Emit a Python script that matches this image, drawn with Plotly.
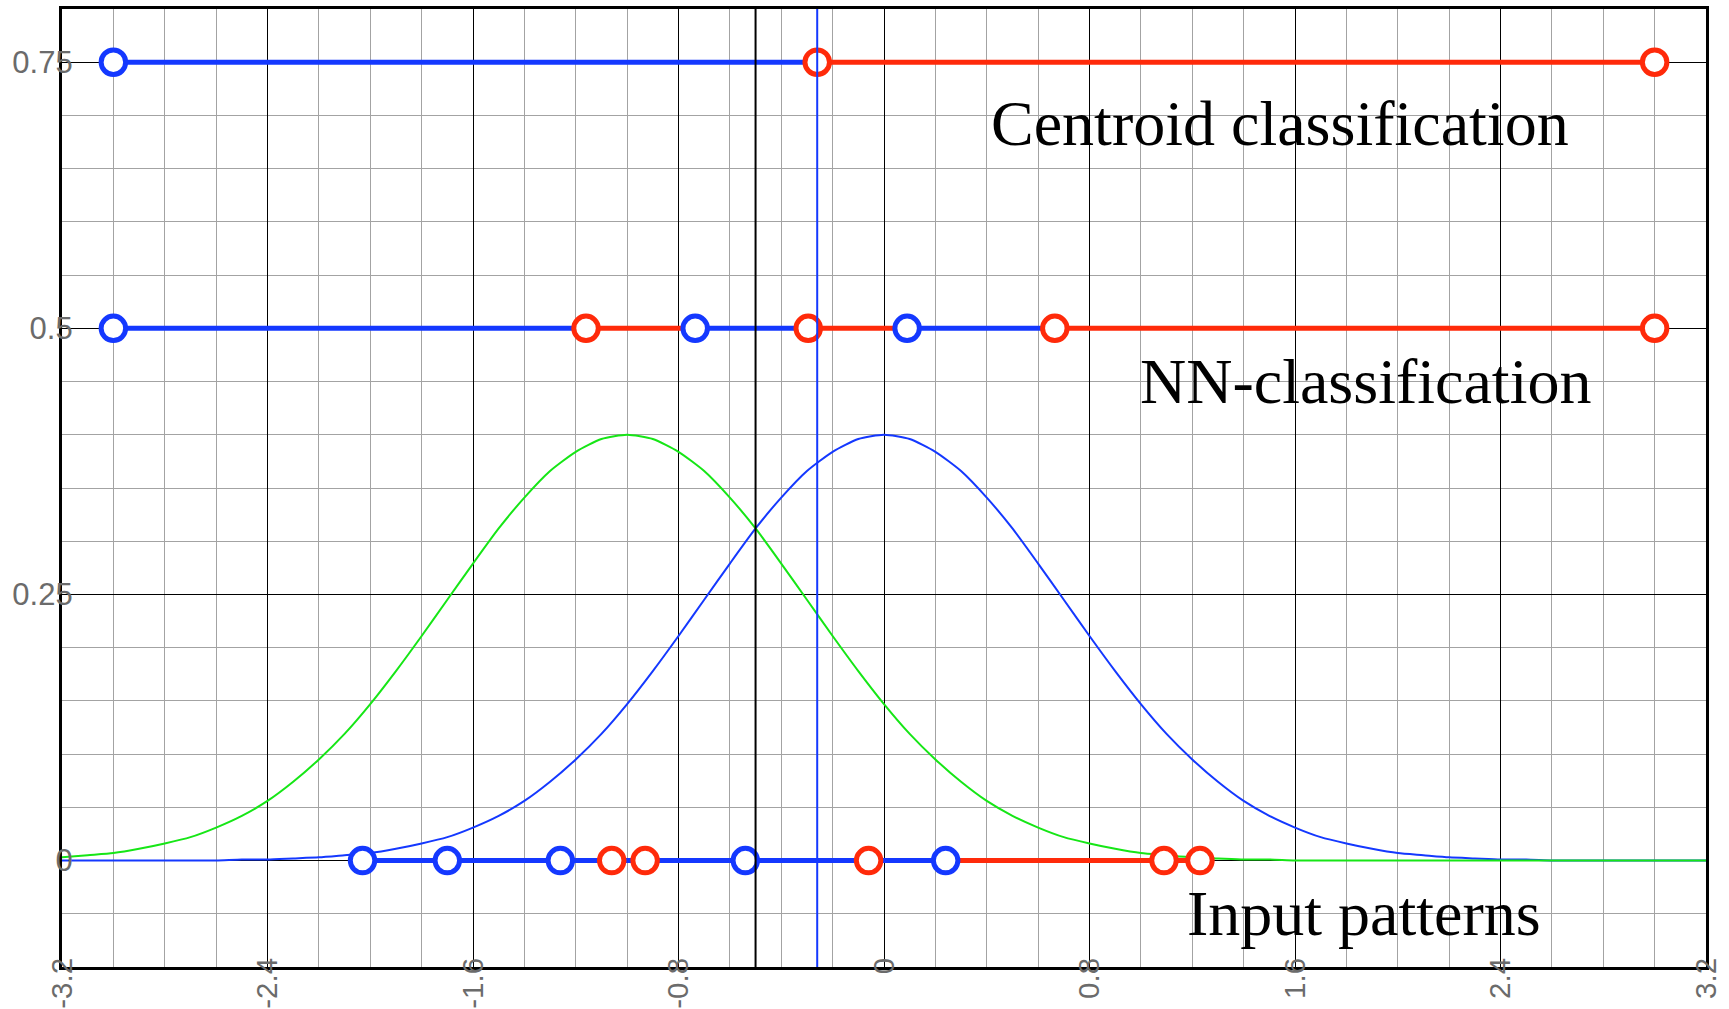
import plotly.graph_objects as go

# Sample positions for the two class-conditional density curves
curve_x = [-3.2, -3.1, -3.0, -2.9, -2.8, -2.7, -2.6, -2.5, -2.4, -2.3, -2.2, -2.1,
           -2.0, -1.9, -1.8, -1.7, -1.6, -1.5, -1.4, -1.3, -1.2, -1.1, -1.0, -0.9,
           -0.8, -0.7, -0.6, -0.5, -0.4, -0.3, -0.2, -0.1, 0.0, 0.1, 0.2, 0.3, 0.4,
           0.5, 0.6, 0.7, 0.8, 0.9, 1.0, 1.1, 1.2, 1.3, 1.4, 1.5, 1.6, 1.7, 1.8, 1.9,
           2.0, 2.1, 2.2, 2.3, 2.4, 2.5, 2.6, 2.7, 2.8, 2.9, 3.0, 3.1, 3.2]

# Density centred at 0 (blue curve)
density_blue = [0, 0, 0, 0, 0, 0, 0,
                0.001, 0.001, 0.002, 0.003, 0.005, 0.007, 0.011, 0.016, 0.022, 0.031,
                0.042, 0.056, 0.074, 0.095, 0.119, 0.147, 0.178, 0.211, 0.245, 0.279,
                0.312, 0.341, 0.366, 0.384, 0.396,
                0.400,
                0.396, 0.384, 0.366, 0.341, 0.312, 0.279, 0.245, 0.211, 0.178, 0.147,
                0.119, 0.095, 0.074, 0.056, 0.042, 0.031, 0.022, 0.016, 0.011, 0.007,
                0.005, 0.003, 0.002, 0.001, 0.001,
                0, 0, 0, 0, 0, 0, 0]

# Density centred at -1 (green curve)
density_green = [0.003, 0.005, 0.007, 0.011, 0.016, 0.022, 0.031, 0.042, 0.056, 0.074,
                 0.095, 0.119, 0.147, 0.178, 0.211, 0.245, 0.279, 0.312, 0.341, 0.366,
                 0.384, 0.396,
                 0.400,
                 0.396, 0.384, 0.366, 0.341, 0.312, 0.279, 0.245, 0.211, 0.178, 0.147,
                 0.119, 0.095, 0.074, 0.056, 0.042, 0.031, 0.022, 0.016, 0.011, 0.007,
                 0.005, 0.003, 0.002, 0.001, 0.001,
                 0, 0, 0, 0, 0, 0, 0, 0, 0, 0, 0, 0, 0, 0, 0, 0, 0]

# Input patterns of the two classes
inputs_blue = [-2.03, -1.70, -1.26, -0.54, 0.24]
inputs_red = [-1.06, -0.93, -0.06, 1.09, 1.23]

# Decision boundaries
nn_boundaries = [-1.16, -0.735, -0.295, 0.09, 0.665]
centroid_boundary = -0.26
bayes_boundary = -0.5
domain_ends = [-3.0, 3.0]

# Row heights of the three strips
row_inputs = 0.0
row_nn = 0.5
row_centroid = 0.75

# Axis ticks
x_range = [-3.2, 3.2]
y_range = [-0.1, 0.8]
x_tickvals = [-3.2, -2.4, -1.6, -0.8, 0.0, 0.8, 1.6, 2.4, 3.2]
x_ticktext = ["-3.2", "-2.4", "-1.6", "-0.8", "0", "0.8", "1.6", "2.4", "3.2"]
y_tickvals = [0.0, 0.25, 0.5, 0.75]
y_ticktext = ["0", "0.25", "0.5", "0.75"]

BLUE = "#1438ff"
RED = "#ff2a0a"
GREEN = "#16e616"

fig = go.Figure()

# density curves
fig.add_trace(go.Scatter(x=curve_x, y=density_blue, mode="lines",
                         line=dict(color=BLUE, width=2, shape="spline", smoothing=0.6),
                         hoverinfo="skip"))
fig.add_trace(go.Scatter(x=curve_x, y=density_green, mode="lines",
                         line=dict(color=GREEN, width=2, shape="spline", smoothing=0.6),
                         hoverinfo="skip"))


def segments(points, colors, y):
    """Split a row into coloured pieces: colors[i] covers points[i]..points[i+1]."""
    out = {}
    for i in range(len(points) - 1):
        xs, ys = out.setdefault(colors[i], ([], []))
        xs += [points[i], points[i + 1], None]
        ys += [y, y, None]
    return out


# classification strips
centroid_pts = [domain_ends[0], centroid_boundary, domain_ends[1]]
centroid_cols = [BLUE, RED]
nn_pts = [domain_ends[0]] + nn_boundaries + [domain_ends[1]]
nn_cols = [BLUE, RED, BLUE, RED, BLUE, RED]
input_pts = [min(inputs_blue), max(inputs_blue), max(inputs_red)]
input_cols = [BLUE, RED]

for pts, cols, y in [(centroid_pts, centroid_cols, row_centroid),
                     (nn_pts, nn_cols, row_nn),
                     (input_pts, input_cols, row_inputs)]:
    for col, (xs, ys) in segments(pts, cols, y).items():
        fig.add_trace(go.Scatter(x=xs, y=ys, mode="lines",
                                 line=dict(color=col, width=5), hoverinfo="skip"))


def rings(xs, y, col):
    fig.add_trace(go.Scatter(x=xs, y=[y] * len(xs), mode="markers",
                             marker=dict(symbol="circle", size=24.5, color="white",
                                         line=dict(color=col, width=5)),
                             hoverinfo="skip"))


rings([domain_ends[0]], row_centroid, BLUE)
rings([centroid_boundary, domain_ends[1]], row_centroid, RED)
rings([domain_ends[0]] + nn_boundaries[1::2], row_nn, BLUE)
rings(nn_boundaries[0::2] + [domain_ends[1]], row_nn, RED)
rings(inputs_red, row_inputs, RED)
rings(inputs_blue, row_inputs, BLUE)

# boundary verticals
fig.add_trace(go.Scatter(x=[bayes_boundary, bayes_boundary], y=y_range, mode="lines",
                         line=dict(color="black", width=2), hoverinfo="skip"))
fig.add_trace(go.Scatter(x=[centroid_boundary, centroid_boundary], y=y_range,
                         mode="lines", line=dict(color=BLUE, width=2), hoverinfo="skip"))

# empty trace that carries the overlay axes used for the tick labels
fig.add_trace(go.Scatter(x=[], y=[], xaxis="x2", yaxis="y2", hoverinfo="skip"))

label_font = dict(family="Liberation Serif", size=64, color="black")
for text, x, y in [("Centroid classification", 1.54, 0.692),
                   ("NN-classification", 1.873, 0.4505),
                   ("Input patterns", 1.869, -0.0498)]:
    fig.add_annotation(x=x, y=y, text=text, showarrow=False, font=label_font,
                       xanchor="center", yanchor="middle")

x_tick_font = dict(family="Liberation Sans", size=29.5, color="#6b6b6b")
y_tick_font = dict(family="Liberation Sans", size=31, color="#6b6b6b")

# main axes: frame and grid only
fig.update_layout(
    xaxis=dict(range=x_range, tickmode="array", tickvals=x_tickvals,
               showticklabels=False, ticks="", automargin=False,
               showgrid=True, gridcolor="black", gridwidth=1,
               minor=dict(dtick=0.2, tick0=-3.2, showgrid=True,
                          gridcolor="#a3a3a3", gridwidth=1),
               showline=True, linecolor="black", linewidth=2.5, mirror=True,
               zeroline=False, fixedrange=True),
    yaxis=dict(range=y_range, tickmode="array", tickvals=y_tickvals,
               showticklabels=False, ticks="", automargin=False,
               showgrid=True, gridcolor="black", gridwidth=1,
               minor=dict(dtick=0.05, tick0=0, showgrid=True,
                          gridcolor="#a3a3a3", gridwidth=1),
               showline=True, linecolor="black", linewidth=2.5, mirror=True,
               zeroline=False, fixedrange=True),
    # label axes, nudged so the labels straddle the frame
    xaxis2=dict(range=x_range, overlaying="x", anchor="free", position=0.0167,
                side="bottom", tickmode="array", tickvals=x_tickvals,
                ticktext=x_ticktext, tickangle=-90, tickfont=x_tick_font, ticks="",
                showgrid=False, showline=False, zeroline=False, automargin=False,
                fixedrange=True),
    yaxis2=dict(range=y_range, overlaying="y", anchor="free", position=0.0065,
                side="left", tickmode="array", tickvals=y_tickvals,
                ticktext=y_ticktext, tickfont=y_tick_font, ticks="",
                showgrid=False, showline=False, zeroline=False, automargin=False,
                fixedrange=True),
    width=1729, height=1009,
    margin=dict(l=62, r=23, t=9, b=42),
    paper_bgcolor="white", plot_bgcolor="white",
    showlegend=False,
)

fig.write_html("out.html", config={"displayModeBar": False})
